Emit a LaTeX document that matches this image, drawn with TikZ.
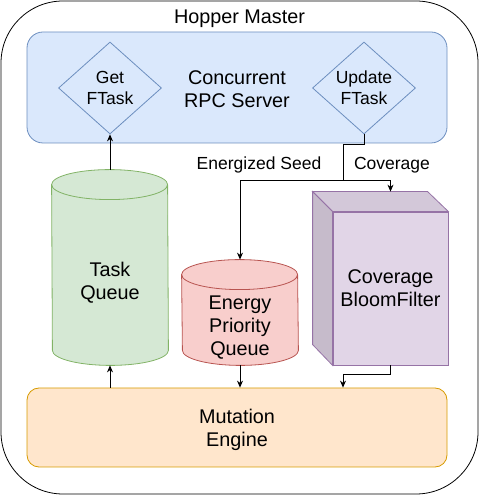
\documentclass[tikz,border=0pt]{standalone}
\usepackage{fontspec}
\setmainfont{Liberation Sans}
\usetikzlibrary{shapes.geometric,arrows.meta}

\definecolor{rpcfill}{HTML}{DAE8FC}
\definecolor{rpcdraw}{HTML}{6C8EBF}
\definecolor{tqfill}{HTML}{D5E8D4}
\definecolor{tqdraw}{HTML}{82B366}
\definecolor{epqfill}{HTML}{F8CECC}
\definecolor{epqdraw}{HTML}{B85450}
\definecolor{bffill}{HTML}{E1D5E7}
\definecolor{bfdraw}{HTML}{9673A6}
\definecolor{mutfill}{HTML}{FFE6CC}
\definecolor{mutdraw}{HTML}{D79B00}

\begin{document}
\begin{tikzpicture}[x=1pt, y=1pt, line width=0.8pt,
  txt/.style={align=center, inner sep=0pt, font=\fontsize{19.8}{23}\selectfont},
  small/.style={align=center, inner sep=0pt, font=\fontsize{17.5}{21.5}\selectfont},
  rpcdiamond/.style={diamond, draw=rpcdraw, fill=rpcfill, minimum width=103pt, minimum height=92pt, aspect=1.12, inner sep=0pt, small},
  body/.style={rectangle, inner sep=0pt, minimum width=116pt},
  flow/.style={draw=black, -{Stealth[length=7pt,width=6pt]}}]
  \useasboundingbox (0,0) rectangle (479,495);

  % outer frame
  \draw[black, rounded corners=62pt] (1,1) rectangle (478,494);
  \node[txt] (master) at (239.5,476) {Hopper Master};

  % rpc server
  \node[rectangle, draw=rpcdraw, fill=rpcfill, rounded corners=16pt, minimum width=420pt, minimum height=111pt] (rpc) at (237,407.5) {};
  \node[txt] (rpc text) at (237,406) {Concurrent\\RPC Server};
  \node[rpcdiamond] (get) at (110,407) {Get\\FTask};
  \node[rpcdiamond] (upd) at (364,407) {Update\\FTask};

  % task queue
  \node[body, minimum height=195pt] (taskq) at (110,227.5) {};
  \path[fill=tqfill, draw=tqdraw] ([yshift=-15pt]taskq.north west) arc[start angle=180, end angle=0, x radius=58pt, y radius=15pt]
    -- ([yshift=15pt]taskq.south east) arc[start angle=0, end angle=-180, x radius=58pt, y radius=15pt] -- cycle;
  \draw[tqdraw] ([yshift=-15pt]taskq.north west) arc[start angle=180, end angle=360, x radius=58pt, y radius=15pt];
  \node[txt] (taskq text) at ([yshift=-15pt]taskq.center) {Task\\Queue};

  % energy priority queue
  \node[body, minimum height=105pt] (epq) at (240,182.5) {};
  \path[fill=epqfill, draw=epqdraw] ([yshift=-15pt]epq.north west) arc[start angle=180, end angle=0, x radius=58pt, y radius=15pt]
    -- ([yshift=15pt]epq.south east) arc[start angle=0, end angle=-180, x radius=58pt, y radius=15pt] -- cycle;
  \draw[epqdraw] ([yshift=-15pt]epq.north west) arc[start angle=180, end angle=360, x radius=58pt, y radius=15pt];
  \node[txt] (epq text) at ([yshift=-15pt]epq.center) {Energy\\Priority\\Queue};

  % coverage bloom filter
  \node[rectangle, draw=bfdraw, fill=bffill, inner sep=0pt, minimum width=115pt, minimum height=153pt, txt] (bloom) at (390.5,206.5) {Coverage\\BloomFilter};
  \draw[bfdraw, fill=bffill!94!black] (bloom.north west) -- ++(-20,20) -- ++(115,0) -- (bloom.north east) -- cycle;
  \draw[bfdraw, fill=bffill!88!black] (bloom.north west) -- ++(-20,20) -- ++(0,-153) -- (bloom.south west) -- cycle;
  \coordinate (bloom top) at ([yshift=20pt]bloom.north);

  % mutation engine
  \node[rectangle, draw=mutdraw, fill=mutfill, rounded corners=12pt, minimum width=420pt, minimum height=79pt] (mut) at (237,67.5) {};
  \node[txt] (mut text) at (237,65.5) {Mutation\\Engine};

  % connectors
  \coordinate (split) at (343,315);
  \coordinate (merge) at (343,121);
  \draw[flow] (taskq.north) -- (get.south);
  \draw[flow] (mut.north -| taskq.south) -- (taskq.south);
  \draw[flow] (epq.south) -- (mut.north -| epq.south);
  \draw[black] (upd.south) -- ++(0,-10) -| (split);
  \draw[flow] (split) -| (epq.north);
  \draw[flow] (split) -| (bloom top);
  \draw[black] (bloom.south) |- (merge);
  \draw[flow] (merge) -- (mut.north -| merge);
  \node[small] (seed label) at (259,330) {Energized Seed};
  \node[small] (cov label) at (392,330) {Coverage};
\end{tikzpicture}
\end{document}
